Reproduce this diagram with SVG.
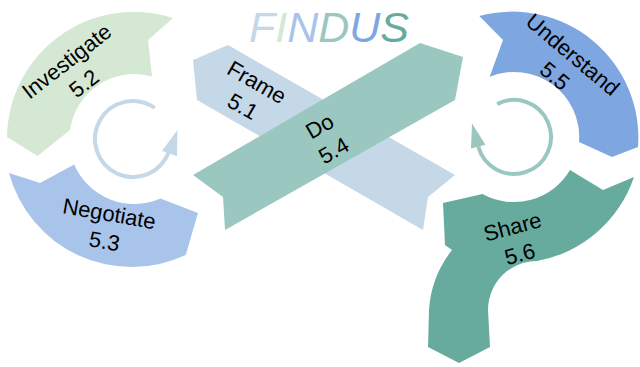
<svg xmlns="http://www.w3.org/2000/svg" width="640" height="367" viewBox="0 0 640 367">
<style>
.lbl{font-family:"Liberation Sans",Arial,sans-serif;font-size:22px;fill:#000;text-anchor:middle}
.cyc{fill:none;stroke-width:4}
</style>
<rect width="640" height="367" fill="#fff"/>
<g id="title">
<text x="329" y="42" font-family="Liberation Sans, Arial, sans-serif" font-size="43" font-style="italic" text-anchor="middle"><tspan fill="#c5d8e8">F</tspan><tspan fill="#d5e8d4">I</tspan><tspan fill="#a9c4eb">N</tspan><tspan fill="#9ac7bf">D</tspan><tspan fill="#7ea6e0">U</tspan><tspan fill="#67ab9f">S</tspan></text>
</g>
<g id="frame">
<path d="M228,45 L455,175 L428,197 L423,230 L197,100 L193,60 Z" fill="#c5d8e8"/>
<g transform="translate(250,94) rotate(30)"><text class="lbl" y="-6">Frame</text><text class="lbl" y="22">5.1</text></g>
</g>
<g id="do">
<path d="M193,175 L420,43 L463,57 L455,100 L225,230 L223,197 Z" fill="#9ac7bf"/>
<g transform="translate(326.5,138) rotate(-30)"><text class="lbl" y="-6">Do</text><text class="lbl" y="22">5.4</text></g>
</g>
<g id="investigate">
<path d="M173,18 A127,127 0 0 0 7,137 L37.5,156 L70,130 A65,65 0 0 1 152,76.5 L148,40 Z" fill="#d5e8d4"/>
<g transform="translate(75,72) rotate(-38)"><text class="lbl" y="-6">Investigate</text><text class="lbl" y="22">5.2</text></g>
</g>
<g id="negotiate">
<path d="M9,173 A127,127 0 0 0 185.7,255 L198,213 L160.4,198.4 A65,65 0 0 1 74.2,164.4 L40,183 Z" fill="#a9c4eb"/>
<g transform="translate(107,227) rotate(10)"><text class="lbl" y="-6">Negotiate</text><text class="lbl" y="22">5.3</text></g>
</g>
<g id="understand">
<path d="M479.3,16 A126,126 0 0 1 638,147 L612,157 L579,142 A65,65 0 0 0 489.7,76.7 L503,40 Z" fill="#7ea6e0"/>
<g transform="translate(564,65) rotate(40)"><text class="lbl" y="-6">Understand</text><text class="lbl" y="22">5.5</text></g>
</g>
<g id="share">
<path d="M634,177 L603,190 L570,170 A65,65 0 0 1 482.5,194 L443,203 L445,245 L452,250 A108,108 0 0 0 429,310 L428,347 L459,363 L490,347 L488,310 A49,49 0 0 1 537,261 A126,126 0 0 0 634,177 Z" fill="#67ab9f"/>
<g transform="translate(516,240) rotate(-15)"><text class="lbl" y="-6">Share</text><text class="lbl" y="22">5.6</text></g>
</g>
<g id="connectors">
<path class="cyc" d="M154.8,107.9 A38,38 0 1 0 168.7,152" stroke="#c5d8e8"/>
<polygon points="177.5,130 162,150.8 177,156.2" fill="#c5d8e8"/>
<path class="cyc" d="M497.2,104 A37,37 0 1 1 478.3,146.6" stroke="#9ac7bf"/>
<polygon points="472,123.5 471,148.5 485.5,144.7" fill="#9ac7bf"/>
</g>
</svg>
